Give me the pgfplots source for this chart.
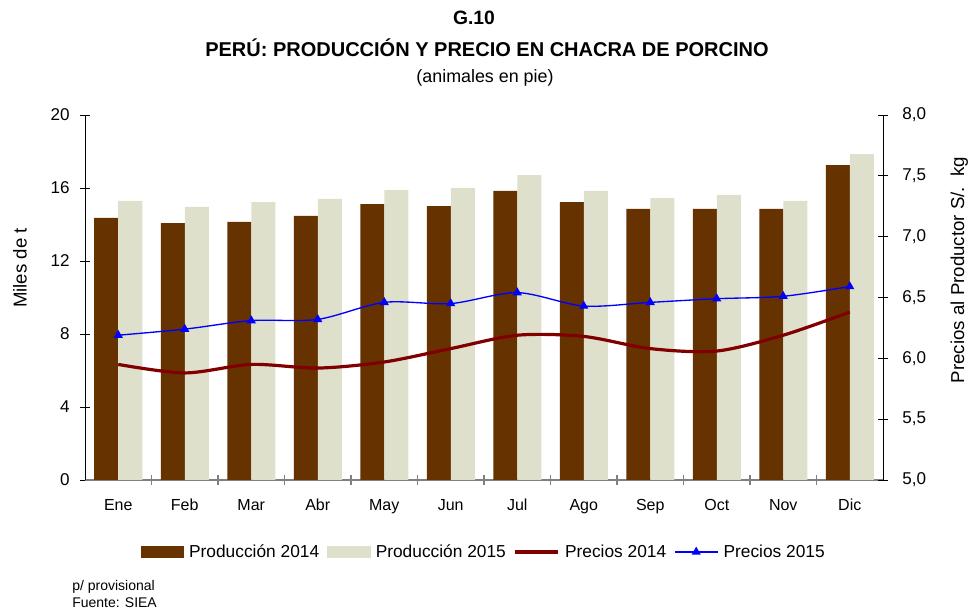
\documentclass[border=0pt]{standalone}
\usepackage{fontspec}
\setmainfont{Liberation Sans}
\usepackage{pgfplots}
\pgfplotsset{compat=1.18}
\definecolor{brownbar}{RGB}{102,51,0}
\definecolor{lightbar}{RGB}{222,224,204}
\definecolor{redline}{RGB}{128,0,0}
\definecolor{blueline}{RGB}{0,0,255}
\definecolor{axgray}{RGB}{128,128,128}

\begin{document}
\begin{tikzpicture}
\useasboundingbox (0,0) rectangle (729pt,458.25pt);

\begin{axis}[
  at={(63.75pt,98.25pt)}, anchor=south west,
  scale only axis, width=598.5pt, height=273.75pt,
  xmin=-0.5, xmax=11.5, ymin=0, ymax=20,
  ytick={0,4,8,12,16,20},
  xtick={0,...,11},
  xticklabels={Ene,Feb,Mar,Abr,May,Jun,Jul,Ago,Sep,Oct,Nov,Dic},
  minor xtick={0.5,1.5,...,10.5},
  axis x line*=bottom, axis y line*=left,
  axis line style={-},
  x axis line style={draw=axgray, line width=1.2pt},
  y axis line style={draw=black, line width=0.6pt},
  tick align=center,
  major x tick style={draw=none},
  minor x tick style={draw=axgray, line width=0.8pt},
  minor tick length=7.5pt,
  major tick length=7.5pt,
  ytick style={draw=black, line width=0.6pt},
  xticklabel style={anchor=base, font=\fontsize{12}{14}\selectfont},
  xticklabel shift=19.5pt,
  yticklabel style={anchor=east, inner sep=0pt, font=\fontsize{12.8}{15}\selectfont, /pgf/number format/assume math mode=true},
  yticklabel shift=7.5pt,
]
\addplot[ybar, bar width=18pt, bar shift=-9pt, fill=brownbar, draw=none] coordinates {
(0,14.36) (1,14.08) (2,14.14) (3,14.47) (4,15.12) (5,15.01) (6,15.84) (7,15.23) (8,14.85) (9,14.85) (10,14.85) (11,17.26)};
\addplot[ybar, bar width=18pt, bar shift=9pt, fill=lightbar, draw=none] coordinates {
(0,15.29) (1,14.96) (2,15.23) (3,15.40) (4,15.89) (5,16.00) (6,16.71) (7,15.84) (8,15.45) (9,15.62) (10,15.29) (11,17.86)};
\end{axis}

\begin{axis}[
  at={(63.75pt,98.25pt)}, anchor=south west,
  scale only axis, width=598.5pt, height=273.75pt,
  xmin=-0.5, xmax=11.5, ymin=5, ymax=8,
  ytick={5,5.5,6,6.5,7,7.5,8},
  axis y line*=right, axis x line=none,
  axis line style={-},
  y axis line style={draw=black, line width=0.6pt},
  tick align=center,
  major tick length=7.5pt,
  ytick style={draw=black, line width=0.6pt},
  yticklabel style={anchor=west, inner sep=0pt, font=\fontsize{12.8}{15}\selectfont,
    /pgf/number format/.cd, fixed, fixed zerofill, precision=1, use comma, assume math mode=true},
  yticklabel shift=10.5pt,
  legend style={at={(0.5,0)}, anchor=center, yshift=-54pt, draw=none, fill=none,
    legend columns=4, font=\fontsize{13}{15}\selectfont,
    /tikz/every even column/.append style={column sep=4pt},
    /tikz/every odd column/.append style={column sep=2pt},
    nodes={inner sep=2pt}},
]
\addlegendimage{legend image code/.code={\fill[brownbar] (0pt,-4pt) rectangle (32pt,4pt);}}
\addlegendentry{Producción 2014}
\addlegendimage{legend image code/.code={\fill[lightbar] (0pt,-4pt) rectangle (32pt,4pt);}}
\addlegendentry{Producción 2015}
\addplot[smooth, redline, line width=2.4pt, mark=none,
  legend image code/.code={\draw[redline, line width=2.4pt] (0pt,0pt) -- (32pt,0pt);}] coordinates {
(0,5.95) (1,5.88) (2,5.95) (3,5.92) (4,5.97) (5,6.08) (6,6.19) (7,6.18) (8,6.08) (9,6.06) (10,6.19) (11,6.38)};
\addlegendentry{Precios 2014}
\addplot[smooth, blueline, line width=1pt, mark=triangle*, mark size=3pt, mark options={solid},
  legend image code/.code={\draw[blueline, line width=1pt, mark=triangle*, mark size=3pt, mark repeat=2, mark phase=2] plot coordinates {(0pt,0pt) (16pt,0pt) (32pt,0pt)};}] coordinates {
(0,6.19) (1,6.24) (2,6.31) (3,6.32) (4,6.46) (5,6.45) (6,6.54) (7,6.43) (8,6.46) (9,6.49) (10,6.51) (11,6.59)};
\addlegendentry{Precios 2015}
\end{axis}

% titles
\node[font=\bfseries\fontsize{14.5}{17}\selectfont] at (355.5pt,444.75pt) {G.10};
\node[font=\bfseries\fontsize{15}{17}\selectfont] at (365.25pt,422.25pt) {PERÚ: PRODUCCIÓN Y PRECIO EN CHACRA DE PORCINO};
\node[font=\fontsize{13.4}{16}\selectfont] at (363.75pt,399.75pt) {(animales en pie)};
% axis titles
\node[rotate=90, font=\fontsize{14}{16}\selectfont] at (15pt,257.25pt) {Miles de t};
\node[rotate=90, anchor=base, font=\fontsize{14}{16}\selectfont] at (723pt,255.75pt) {Precios al Productor S/.\ \ kg};
% footnotes
\node[anchor=base west, inner sep=0pt, font=\fontsize{10.5}{12}\selectfont] at (54pt,15.75pt) {p/ provisional};
\node[anchor=base west, inner sep=0pt, font=\fontsize{10.5}{12}\selectfont] at (54pt,2.25pt) {Fuente: SIEA};
\end{tikzpicture}
\end{document}
